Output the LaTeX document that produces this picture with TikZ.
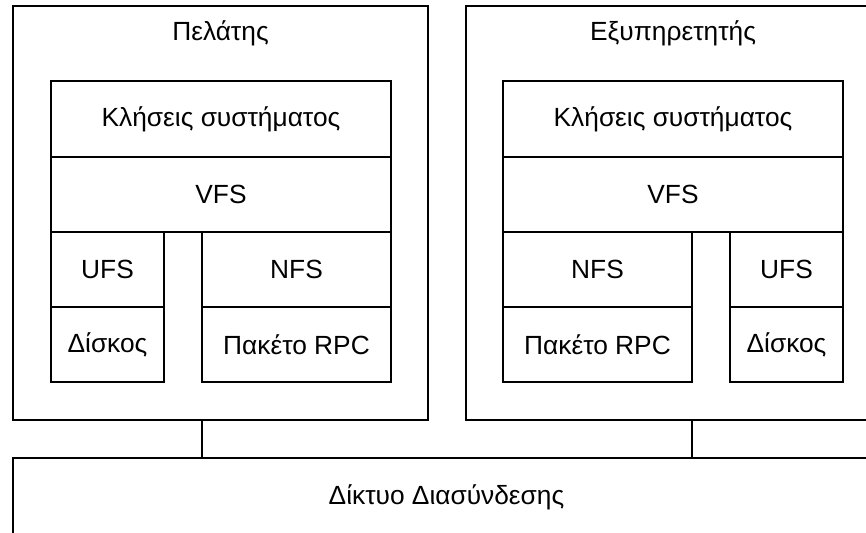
\documentclass[tikz,border=0pt]{standalone}
\usepackage{fontspec}
\setmainfont{Liberation Sans}
\usetikzlibrary{positioning}

\tikzset{
  box/.style={draw, line width=1.5pt, inner sep=0pt, outer sep=0pt},
  layer/.style={box, font=\fontsize{26.3}{30}\selectfont, minimum height=75pt},
  title/.style={font=\fontsize{26.3}{30}\selectfont, inner sep=0pt}
}

\begin{document}
\begin{tikzpicture}[x=1pt, y=-1pt]
  \useasboundingbox (0,0) rectangle (866,532);

  % client and server machines
  \node[box, minimum width=415pt, minimum height=414pt] (client) at (220.5,213) {};
  \node[box, minimum width=414pt, minimum height=414pt] (server) at (673,213) {};
  \node[title] (clienttitle) at (220.5,33) {Πελάτης};
  \node[title] (servertitle) at (673,33) {Εξυπηρετητής};

  % client stack
  \node[layer, minimum width=340pt, minimum height=76pt] (lsys) at (221,119) {Κλήσεις συστήματος};
  \node[layer, minimum width=340pt, below=0pt of lsys] (lvfs) {VFS};
  \node[layer, minimum width=113pt, anchor=north west] (lufs) at (lvfs.south west) {UFS};
  \node[layer, minimum width=113pt, below=0pt of lufs] (ldisk) {Δίσκος};
  \node[layer, minimum width=189pt, anchor=north east] (lnfs) at (lvfs.south east) {NFS};
  \node[layer, minimum width=189pt, below=0pt of lnfs] (lrpc) {Πακέτο RPC};

  % server stack
  \node[layer, minimum width=340pt, minimum height=76pt] (rsys) at (673,119) {Κλήσεις συστήματος};
  \node[layer, minimum width=340pt, below=0pt of rsys] (rvfs) {VFS};
  \node[layer, minimum width=189pt, anchor=north west] (rnfs) at (rvfs.south west) {NFS};
  \node[layer, minimum width=189pt, below=0pt of rnfs] (rrpc) {Πακέτο RPC};
  \node[layer, minimum width=113pt, anchor=north east] (rufs) at (rvfs.south east) {UFS};
  \node[layer, minimum width=113pt, below=0pt of rufs] (rdisk) {Δίσκος};

  % network
  \node[layer, minimum width=867pt, minimum height=78pt] (net) at (446.5,497) {Δίκτυο Διασύνδεσης};

  \draw[line width=1.5pt] (lrpc.south west |- client.south) -- (lrpc.south west |- net.north);
  \draw[line width=1.5pt] (rrpc.south east |- server.south) -- (rrpc.south east |- net.north);
\end{tikzpicture}
\end{document}
